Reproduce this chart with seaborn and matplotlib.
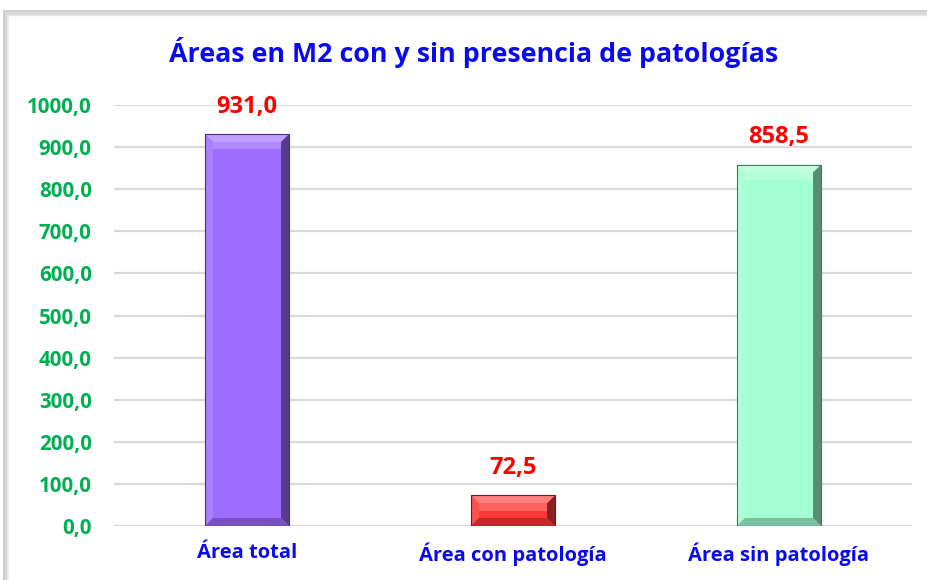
import matplotlib
matplotlib.use("Agg")
import matplotlib.pyplot as plt
import matplotlib.colors as mcolors
from matplotlib.patches import Polygon, Rectangle
import seaborn as sns
import pandas as pd

categories = ["Área total", "Área con patología", "Área sin patología"]
values = [931.0, 72.5, 858.5]
bar_colors = ["#9E6CFF", "#FF3838", "#A2FFD2"]
title = "Áreas en M2 con y sin presencia de patologías"

sns.set_theme(style="white")
plt.rcParams["font.family"] = ["Open Sans", "DejaVu Sans"]

BLUE = "#0A0AF0"
GREEN = "#00B050"
RED = "#FF0000"

df = pd.DataFrame({"cat": categories, "val": values})

fig = plt.figure(figsize=(9.27, 5.8), dpi=100)
fig.patch.set_facecolor("white")

# outer chart frame with a soft shadow on the left/top
for off, col in [(3, "#EDEDED"), (1.5, "#D8D8D8")]:
    fig.patches.append(Rectangle((4 / 927 + off / 927, -0.02), 1.0, 1 - 11 / 580 + 0.02 - off / 580,
                                 transform=fig.transFigure, fill=False,
                                 edgecolor=col, linewidth=2.5, zorder=0))
fig.patches.append(Rectangle((4 / 927, -0.02), 1.0, 1 - 11 / 580 + 0.02,
                             transform=fig.transFigure, fill=False,
                             edgecolor="#C8C8C8", linewidth=1.2, zorder=0))

ax = fig.add_axes([114 / 927, 1 - 526 / 580, (912 - 114) / 927, (526 - 105) / 580])
ax.set_facecolor("none")

sns.barplot(data=df, x="cat", y="val", hue="cat", palette=bar_colors,
            width=0.316, legend=False, ax=ax, saturation=1, zorder=3)

ax.set_ylim(0, 1000)
ax.set_xlim(-0.5, len(categories) - 0.5)
ticks = list(range(0, 1001, 100))
ax.set_yticks(ticks)
ax.set_yticklabels([f"{t:.1f}".replace(".", ",") for t in ticks])
ax.yaxis.grid(True, color="#D9D9D9", linewidth=1.6, zorder=0)
ax.xaxis.grid(False)
for s in ax.spines.values():
    s.set_visible(False)
ax.tick_params(axis="y", length=0, pad=16, labelsize=14.8, labelcolor=GREEN)
ax.tick_params(axis="x", length=0, pad=12, labelsize=14.5, labelcolor=BLUE)
for lab in ax.get_yticklabels() + ax.get_xticklabels():
    lab.set_fontweight("bold")
ax.set_xlabel("")
ax.set_ylabel("")

fig.canvas.draw()
# bevel size in data units, derived from the axes transform
inv = ax.transData.inverted()
p0 = inv.transform((0, 0))
p1 = inv.transform((8, 8))
bx, by = p1[0] - p0[0], p1[1] - p0[1]


def shade(color, f):
    r, g, b = mcolors.to_rgb(color)
    if f >= 0:
        return (r + (1 - r) * f, g + (1 - g) * f, b + (1 - b) * f)
    return (r * (1 + f), g * (1 + f), b * (1 + f))


for patch, val, col in zip(ax.patches, values, bar_colors):
    x0, w = patch.get_x(), patch.get_width()
    y0, h = patch.get_y(), patch.get_height()
    x1, y1 = x0 + w, y0 + h
    e = min(by, h / 2.5)
    ix0, ix1 = x0 + bx, x1 - bx
    iy0, iy1 = y0 + e, y1 - e
    faces = [
        ([(x0, y1), (x1, y1), (ix1, iy1), (ix0, iy1)], shade(col, 0.35)),   # top
        ([(x0, y0), (x0, y1), (ix0, iy1), (ix0, iy0)], shade(col, 0.12)),   # left
        ([(x1, y0), (x1, y1), (ix1, iy1), (ix1, iy0)], shade(col, -0.45)),  # right
        ([(x0, y0), (x1, y0), (ix1, iy0), (ix0, iy0)], shade(col, -0.25)),  # bottom
    ]
    for pts, c in faces:
        ax.add_patch(Polygon(pts, closed=True, facecolor=c, edgecolor="none", zorder=4))
    # soft glossy band just below the top bevel
    ax.add_patch(Rectangle((ix0, iy1 - e * 0.9), ix1 - ix0, e * 0.9,
                           facecolor=shade(col, 0.2), edgecolor="none", zorder=4))
    ax.add_patch(Rectangle((x0, y0), w, h, fill=False, edgecolor=shade(col, -0.55),
                           linewidth=0.8, zorder=5))
    ax.annotate(f"{val:.1f}".replace(".", ","), (x0 + w / 2, y1),
                xytext=(0, 11), textcoords="offset points", ha="center", va="bottom",
                color=RED, fontsize=17, fontweight="bold", zorder=6)

fig.text(474 / 927, 1 - 52 / 580, title, ha="center", va="center",
         color=BLUE, fontsize=19.3, fontweight="bold")

fig.savefig("out.png", dpi=100)
